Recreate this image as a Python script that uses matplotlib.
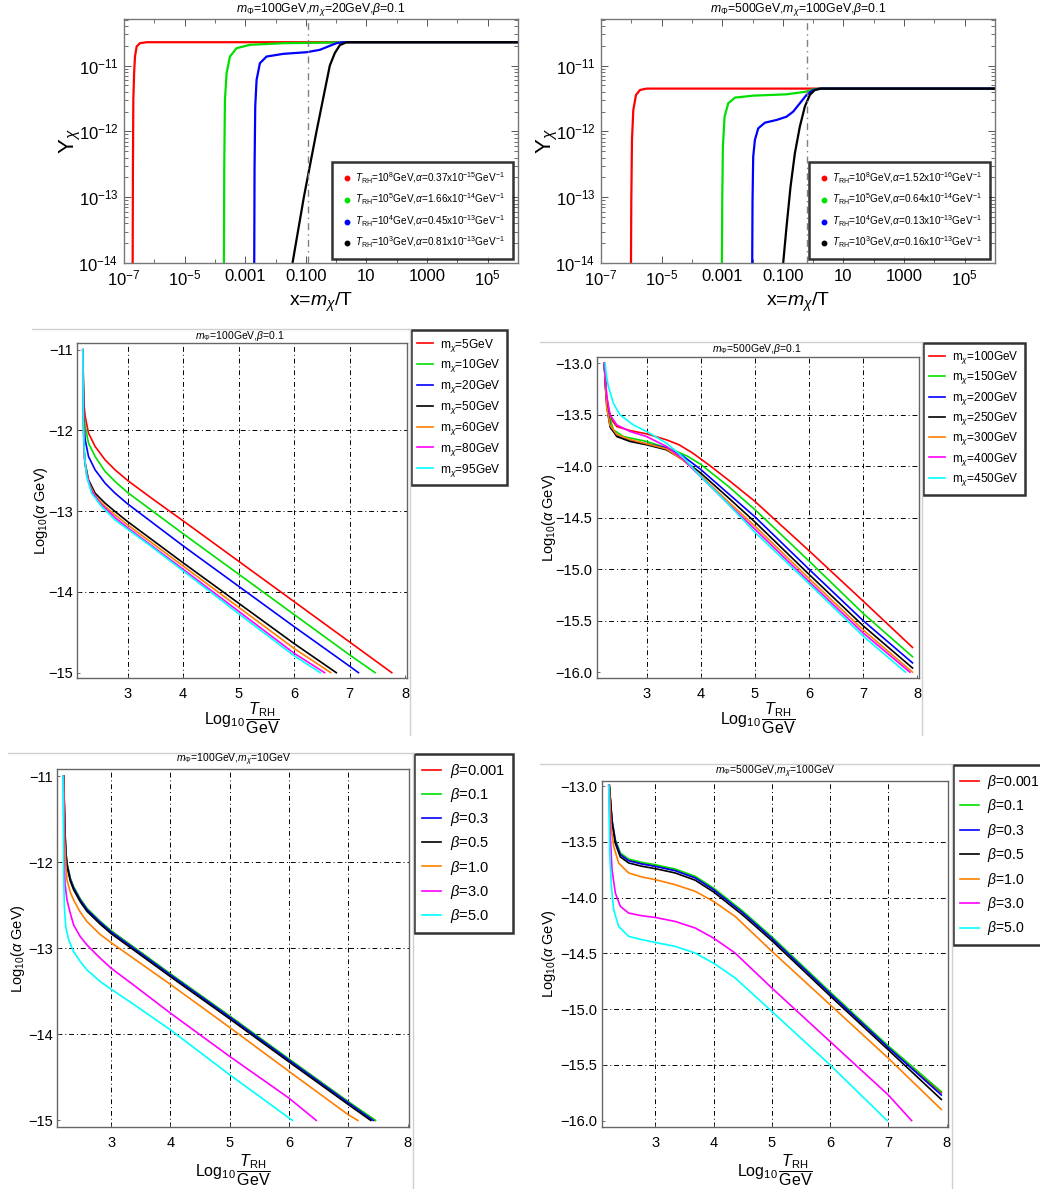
import matplotlib
matplotlib.use("Agg")
import matplotlib.pyplot as plt
from matplotlib.lines import Line2D
from matplotlib.ticker import FixedLocator, FixedFormatter, NullFormatter
import numpy as np

plt.rcParams["font.family"] = ["Liberation Sans", "DejaVu Sans"]
plt.rcParams["mathtext.fontset"] = "custom"
plt.rcParams["mathtext.rm"] = "Liberation Sans"
plt.rcParams["mathtext.it"] = "Liberation Sans:italic"
plt.rcParams["mathtext.bf"] = "Liberation Sans:bold"
plt.rcParams["mathtext.sf"] = "Liberation Sans"

W, H = 1040, 1189

COLORS7 = ["#ff0000", "#00e000", "#0000ff", "#000000", "#ff7f00", "#ff00ff", "#00ffff"]
COLORS4 = ["#ff0000", "#00e000", "#0000ff", "#000000"]

# ---------------- Top-left: Y_chi vs x (m_Phi=100, m_chi=20, beta=0.1) ----------------
TL_TITLE = r"$m_\Phi$=100GeV,$m_\chi$=20GeV,$\beta$=0.1"
TL_LABELS = [
    r"$T_{\rm RH}$=10$^8$GeV,$\alpha$=0.37x10$^{-15}$GeV$^{-1}$",
    r"$T_{\rm RH}$=10$^5$GeV,$\alpha$=1.66x10$^{-14}$GeV$^{-1}$",
    r"$T_{\rm RH}$=10$^4$GeV,$\alpha$=0.45x10$^{-13}$GeV$^{-1}$",
    r"$T_{\rm RH}$=10$^3$GeV,$\alpha$=0.81x10$^{-13}$GeV$^{-1}$",
]
TL_LOGX = [
    [-6.714, -6.705, -6.692, -6.665, -6.637, -6.582, -6.473, -6.25, 6.0],
    [-3.703, -3.692, -3.670, -3.615, -3.505, -3.286, -2.846, -1.747, -0.099, 0.231, 6.0],
    [-2.703, -2.692, -2.670, -2.626, -2.516, -2.297, -1.747, -0.978, -0.538, -0.209, 0.011, 0.231, 6.0],
    [-1.440, -1.253, -1.066, -0.857, -0.648, -0.429, -0.209, -0.044, 0.121, 0.341, 6.0],
]
TL_LOGY = [
    [-14.0, -12.5, -11.52, -11.1, -10.86, -10.71, -10.66, -10.645, -10.645],
    [-14.0, -12.538, -11.523, -11.117, -10.863, -10.736, -10.685, -10.66, -10.65, -10.645, -10.645],
    [-14.0, -12.538, -11.624, -11.218, -10.964, -10.863, -10.822, -10.797, -10.761, -10.70, -10.66, -10.645, -10.645],
    [-14.0, -13.5, -13.0, -12.5, -12.0, -11.5, -11.0, -10.81, -10.69, -10.645, -10.645],
]
TL_VLINE = 0.122

# ---------------- Top-right: Y_chi vs x (m_Phi=500, m_chi=100, beta=0.1) ----------------
TR_TITLE = r"$m_\Phi$=500GeV,$m_\chi$=100GeV,$\beta$=0.1"
TR_LABELS = [
    r"$T_{\rm RH}$=10$^8$GeV,$\alpha$=1.52x10$^{-16}$GeV$^{-1}$",
    r"$T_{\rm RH}$=10$^5$GeV,$\alpha$=0.64x10$^{-14}$GeV$^{-1}$",
    r"$T_{\rm RH}$=10$^4$GeV,$\alpha$=0.13x10$^{-13}$GeV$^{-1}$",
    r"$T_{\rm RH}$=10$^3$GeV,$\alpha$=0.16x10$^{-13}$GeV$^{-1}$",
]
TR_LOGX = [
    [-6.011, -6.0, -5.978, -5.934, -5.846, -5.714, -5.495, 6.0],
    [-3.011, -3.0, -2.978, -2.923, -2.802, -2.582, -1.978, -0.879, -0.220, 0.0, 0.22, 6.0],
    [-2.011, -2.0, -1.978, -1.923, -1.813, -1.593, -1.209, -0.879, -0.659, -0.440, -0.220, 0.0, 0.220, 6.0],
    [-0.989, -0.879, -0.747, -0.604, -0.440, -0.275, -0.110, 0.055, 0.275, 6.0],
]
TR_LOGY = [
    [-14.0, -13.046, -12.132, -11.675, -11.447, -11.371, -11.35, -11.35],
    [-14.0, -13.046, -12.234, -11.777, -11.574, -11.487, -11.457, -11.437, -11.396, -11.36, -11.35, -11.35],
    [-14.0, -13.046, -12.386, -12.132, -11.954, -11.868, -11.827, -11.777, -11.70, -11.574, -11.447, -11.371, -11.35, -11.35],
    [-14.0, -13.452, -12.843, -12.335, -11.929, -11.624, -11.447, -11.371, -11.35, -11.35],
]
TR_VLINE = 0.63

XTICK_VALS = [1e-7, 1e-5, 1e-3, 1e-1, 10, 1e3, 1e5]
XTICK_LABELS = [r"10$^{-7}$", r"10$^{-5}$", "0.001", "0.100", "10", "1000", r"10$^{5}$"]
YTICK_VALS = [1e-14, 1e-13, 1e-12, 1e-11]
YTICK_LABELS = [r"10$^{-14}$", r"10$^{-13}$", r"10$^{-12}$", r"10$^{-11}$"]

# ---------------- Middle-left: log10(alpha) vs log10(T_RH), m_Phi=100 ----------------
ML_TITLE = r"$m_\Phi$=100GeV,$\beta$=0.1"
ML_LABELS = [r"m$_\chi$=5GeV", r"m$_\chi$=10GeV", r"m$_\chi$=20GeV", r"m$_\chi$=50GeV",
             r"m$_\chi$=60GeV", r"m$_\chi$=80GeV", r"m$_\chi$=95GeV"]
ML_X = [
    [2.19, 2.209, 2.233, 2.293, 2.412, 2.592, 2.772, 3.0, 3.432, 4.0, 5.0, 6.0, 7.0, 7.76],
    [2.19, 2.209, 2.233, 2.293, 2.412, 2.592, 2.772, 3.0, 4.0, 5.0, 6.0, 7.0, 7.46],
    [2.19, 2.209, 2.233, 2.293, 2.412, 2.592, 2.772, 3.0, 4.0, 5.0, 6.0, 7.0, 7.16],
    [2.19, 2.209, 2.233, 2.293, 2.412, 2.592, 2.772, 3.0, 4.0, 5.0, 6.0, 6.76],
    [2.19, 2.209, 2.233, 2.293, 2.412, 2.592, 2.772, 3.0, 4.0, 5.0, 6.0, 6.66],
    [2.19, 2.205, 2.22, 2.26, 2.35, 2.5, 2.772, 3.0, 4.0, 5.0, 6.0, 6.55],
    [2.19, 2.199, 2.217, 2.259, 2.349, 2.529, 2.769, 3.0, 3.432, 4.0, 5.0, 6.0, 6.47],
]
ML_Y = [
    [-11.0, -11.661, -11.826, -12.033, -12.198, -12.364, -12.488, -12.62, -12.84, -13.12, -13.62, -14.12, -14.62, -15.0],
    [-11.0, -11.785, -11.95, -12.157, -12.322, -12.508, -12.632, -12.77, -13.28, -13.78, -14.28, -14.78, -15.0],
    [-11.0, -11.909, -12.116, -12.322, -12.488, -12.653, -12.777, -12.91, -13.43, -13.93, -14.43, -14.92, -15.0],
    [-11.0, -12.198, -12.405, -12.612, -12.777, -12.901, -13.004, -13.13, -13.64, -14.14, -14.64, -15.0],
    [-11.0, -12.22, -12.43, -12.64, -12.81, -12.94, -13.045, -13.17, -13.68, -14.19, -14.70, -15.0],
    [-11.0, -12.0, -12.35, -12.55, -12.75, -12.9, -13.08, -13.205, -13.72, -14.24, -14.76, -15.0],
    [-11.0, -11.868, -12.281, -12.570, -12.777, -12.942, -13.107, -13.223, -13.44, -13.74, -14.27, -14.79, -15.0],
]

# ---------------- Middle-right: log10(alpha) vs log10(T_RH), m_Phi=500 ----------------
MR_TITLE = r"$m_\Phi$=500GeV,$\beta$=0.1"
MR_LABELS = [r"m$_\chi$=100GeV", r"m$_\chi$=150GeV", r"m$_\chi$=200GeV", r"m$_\chi$=250GeV",
             r"m$_\chi$=300GeV", r"m$_\chi$=400GeV", r"m$_\chi$=450GeV"]
MR_X = [
    [2.22, 2.26, 2.30, 2.358, 2.45, 2.694, 3.0, 3.367, 3.6, 3.85, 4.162, 4.529, 5.0, 6.0, 7.0, 7.91],
    [2.22, 2.25, 2.297, 2.388, 2.572, 3.0, 3.489, 3.75, 4.0, 4.5, 5.0, 6.0, 7.0, 7.91],
    [2.22, 2.25, 2.28, 2.34, 2.48, 2.694, 3.0, 3.367, 3.673, 4.0, 4.5, 5.0, 6.0, 7.0, 7.91],
    [2.22, 2.266, 2.327, 2.45, 2.694, 3.0, 3.367, 3.673, 4.0, 4.5, 5.0, 6.0, 7.0, 7.91],
    [2.22, 2.266, 2.327, 2.45, 2.694, 3.0, 3.367, 3.673, 4.0, 4.5, 5.0, 6.0, 7.0, 7.91],
    [2.22, 2.266, 2.327, 2.45, 2.694, 3.0, 3.367, 3.673, 4.0, 4.5, 5.0, 6.0, 7.0, 7.86],
    [2.235, 2.26, 2.297, 2.388, 2.511, 2.755, 3.0, 3.367, 3.673, 4.0, 4.407, 5.0, 6.0, 7.0, 7.78],
]
MR_Y = [
    [-13.0, -13.3, -13.45, -13.548, -13.613, -13.652, -13.684, -13.742, -13.79, -13.87, -13.99, -14.14, -14.34, -14.82, -15.31, -15.76],
    [-13.0, -13.3, -13.484, -13.645, -13.71, -13.758, -13.839, -13.90, -13.98, -14.19, -14.42, -14.92, -15.43, -15.85],
    [-13.0, -13.3, -13.45, -13.63, -13.71, -13.75, -13.78, -13.82, -13.90, -14.03, -14.26, -14.49, -15.0, -15.5, -15.91],
    [-13.0, -13.419, -13.613, -13.71, -13.758, -13.79, -13.839, -13.935, -14.065, -14.30, -14.54, -15.05, -15.55, -15.96],
    [-13.0, -13.43, -13.60, -13.69, -13.74, -13.78, -13.83, -13.94, -14.09, -14.34, -14.58, -15.09, -15.59, -16.0],
    [-13.0, -13.32, -13.50, -13.597, -13.661, -13.71, -13.806, -13.93, -14.10, -14.36, -14.61, -15.12, -15.62, -16.0],
    [-13.0, -13.12, -13.226, -13.387, -13.5, -13.597, -13.661, -13.774, -13.91, -14.10, -14.31, -14.64, -15.14, -15.65, -16.0],
]

# ---------------- Bottom-left: beta dependence, m_Phi=100, m_chi=10 ----------------
BL_TITLE = r"$m_\Phi$=100GeV,$m_\chi$=10GeV"
BETA_LABELS = [r"$\beta$=0.001", r"$\beta$=0.1", r"$\beta$=0.3", r"$\beta$=0.5",
               r"$\beta$=1.0", r"$\beta$=3.0", r"$\beta$=5.0"]
BL_X = [
    [2.198, 2.215, 2.232, 2.254, 2.310, 2.366, 2.478, 2.591, 2.815, 3.0, 4.0, 5.0, 6.0, 7.0, 7.45],
    [2.198, 2.215, 2.232, 2.254, 2.310, 2.366, 2.478, 2.591, 2.815, 3.0, 4.0, 5.0, 6.0, 7.0, 7.46],
    [2.198, 2.215, 2.232, 2.254, 2.310, 2.366, 2.478, 2.591, 2.815, 3.0, 4.0, 5.0, 6.0, 7.0, 7.42],
    [2.198, 2.215, 2.232, 2.254, 2.310, 2.366, 2.478, 2.591, 2.815, 3.0, 4.0, 5.0, 6.0, 7.0, 7.38],
    [2.198, 2.215, 2.237, 2.254, 2.310, 2.366, 2.478, 2.591, 2.815, 3.0, 4.0, 5.0, 6.0, 7.0, 7.162],
    [2.192, 2.204, 2.220, 2.254, 2.310, 2.366, 2.478, 2.591, 2.815, 3.0, 3.376, 4.0, 5.0, 6.0, 6.46],
    [2.187, 2.198, 2.209, 2.232, 2.282, 2.366, 2.478, 2.591, 2.815, 3.0, 3.376, 4.0, 5.0, 6.057],
]
BL_Y = [
    [-11.0, -11.552, -11.862, -12.017, -12.19, -12.29, -12.43, -12.54, -12.69, -12.80, -13.30, -13.79, -14.29, -14.785, -15.0],
    [-11.0, -11.549, -11.859, -12.014, -12.187, -12.287, -12.427, -12.537, -12.687, -12.797, -13.297, -13.787, -14.287, -14.782, -15.0],
    [-11.0, -11.56, -11.87, -12.03, -12.20, -12.30, -12.44, -12.55, -12.70, -12.81, -13.31, -13.80, -14.30, -14.795, -15.0],
    [-11.0, -11.58, -11.89, -12.05, -12.22, -12.32, -12.46, -12.57, -12.72, -12.83, -13.33, -13.82, -14.32, -14.815, -15.0],
    [-11.0, -11.743, -12.052, -12.207, -12.35, -12.44, -12.58, -12.69, -12.84, -12.935, -13.42, -13.92, -14.43, -14.934, -15.0],
    [-11.0, -11.936, -12.246, -12.439, -12.594, -12.729, -12.865, -12.961, -13.116, -13.232, -13.426, -13.754, -14.257, -14.741, -15.0],
    [-11.0, -12.13, -12.516, -12.749, -12.903, -13.039, -13.155, -13.251, -13.387, -13.476, -13.65, -13.948, -14.470, -15.0],
]

# ---------------- Bottom-right: beta dependence, m_Phi=500, m_chi=100 ----------------
BR_TITLE = r"$m_\Phi$=500GeV,$m_\chi$=100GeV"
BR_X = [
    [2.21, 2.257, 2.314, 2.4, 2.543, 2.771, 3.0, 3.343, 3.686, 4.0, 4.5, 5.0, 6.0, 7.0, 7.91],
    [2.21, 2.257, 2.314, 2.4, 2.543, 2.771, 3.0, 3.343, 3.686, 4.0, 4.5, 5.0, 6.0, 7.0, 7.91],
    [2.21, 2.257, 2.314, 2.4, 2.543, 2.771, 3.0, 3.343, 3.686, 4.0, 4.5, 5.0, 6.0, 7.0, 7.91],
    [2.21, 2.257, 2.314, 2.4, 2.543, 2.771, 3.0, 3.343, 3.686, 4.0, 4.5, 5.0, 6.0, 7.0, 7.91],
    [2.21, 2.24, 2.286, 2.371, 2.543, 2.771, 3.0, 3.343, 3.686, 4.0, 4.371, 5.0, 6.0, 7.0, 7.91],
    [2.2, 2.229, 2.257, 2.314, 2.4, 2.543, 2.771, 3.0, 3.343, 3.686, 4.0, 4.371, 5.0, 6.0, 7.0, 7.4],
    [2.2, 2.217, 2.246, 2.286, 2.371, 2.543, 2.771, 3.0, 3.343, 3.686, 4.0, 4.371, 5.0, 6.0, 6.98],
]
BR_Y = [
    [-12.99, -13.31, -13.489, -13.609, -13.663, -13.693, -13.714, -13.753, -13.818, -13.923, -14.13, -14.36, -14.855, -15.34, -15.75],
    [-12.99, -13.30, -13.479, -13.599, -13.653, -13.683, -13.704, -13.743, -13.808, -13.913, -14.12, -14.35, -14.845, -15.33, -15.74],
    [-12.99, -13.31, -13.494, -13.614, -13.668, -13.698, -13.719, -13.758, -13.823, -13.928, -14.135, -14.365, -14.86, -15.345, -15.77],
    [-12.99, -13.33, -13.514, -13.634, -13.688, -13.718, -13.739, -13.778, -13.843, -13.948, -14.155, -14.385, -14.88, -15.365, -15.81],
    [-12.99, -13.359, -13.539, -13.689, -13.778, -13.814, -13.838, -13.883, -13.943, -14.033, -14.168, -14.48, -14.96, -15.44, -15.9],
    [-12.99, -13.449, -13.749, -13.958, -14.078, -14.138, -14.162, -14.177, -14.213, -14.272, -14.362, -14.497, -14.81, -15.29, -15.77, -16.0],
    [-12.99, -13.599, -13.898, -14.108, -14.257, -14.347, -14.377, -14.401, -14.437, -14.497, -14.587, -14.72, -15.02, -15.5, -16.0],
]

DASHDOT = (0, (5, 3, 1, 3))
SPINE = "#666666"
MINUS = "\u2212"
INT_TICKS = [-15, -14, -13, -12, -11]
INT_LABELS = [MINUS + "15", MINUS + "14", MINUS + "13", MINUS + "12", MINUS + "11"]
HALF_TICKS = [-16.0, -15.5, -15.0, -14.5, -14.0, -13.5, -13.0]
HALF_LABELS = [MINUS + "16.0", MINUS + "15.5", MINUS + "15.0", MINUS + "14.5",
               MINUS + "14.0", MINUS + "13.5", MINUS + "13.0"]

fig = plt.figure(figsize=(W / 100, H / 100), dpi=100)
fig.patch.set_facecolor("white")


def px_axes(l, t, r, b):
    return fig.add_axes([l / W, 1 - b / H, (r - l) / W, (b - t) / H])


def fig_line(x0, y0, x1, y1, color="#cfcfcf", lw=1.0):
    fig.add_artist(Line2D([x0 / W, x1 / W], [1 - y0 / H, 1 - y1 / H],
                          transform=fig.transFigure, color=color, lw=lw))


def style_spines(ax, color=SPINE, lw=1.0):
    for s in ax.spines.values():
        s.set_color(color)
        s.set_linewidth(lw)


def yield_panel(ax, logx, logy, labels, vline, title, title_xy, legend_box):
    for lx, ly, c in zip(logx, logy, COLORS4):
        ax.plot(10 ** np.array(lx), 10 ** np.array(ly), color=c, lw=1.6, solid_capstyle="butt")
    ax.set_xscale("log")
    ax.set_yscale("log")
    ax.set_xlim(1e-7, 1e6)
    ax.set_ylim(1e-14, 5.1e-11)
    ax.axvline(vline, color="#808080", lw=1.0, ls=DASHDOT)
    ax.xaxis.set_major_locator(FixedLocator(XTICK_VALS))
    ax.xaxis.set_major_formatter(FixedFormatter(XTICK_LABELS))
    ax.xaxis.set_minor_locator(FixedLocator([1e-6, 1e-4, 1e-2, 1, 1e2, 1e4]))
    ax.xaxis.set_minor_formatter(NullFormatter())
    ax.yaxis.set_major_locator(FixedLocator(YTICK_VALS))
    ax.yaxis.set_major_formatter(FixedFormatter(YTICK_LABELS))
    yminor = [m * 10.0 ** e for e in range(-14, -10) for m in range(2, 10) if m * 10.0 ** e < 5.1e-11]
    ax.yaxis.set_minor_locator(FixedLocator(yminor))
    ax.yaxis.set_minor_formatter(NullFormatter())
    ax.tick_params(which="major", direction="in", top=True, right=True, length=5,
                   width=0.7, color="#555555", labelsize=12, pad=4)
    ax.tick_params(which="minor", direction="in", top=True, right=True, length=3,
                   width=0.6, color="#555555")
    style_spines(ax, "#777777", 1.0)
    ax.set_ylabel(r"Y$_\chi$", fontsize=16)
    ax.yaxis.set_label_coords(-0.105, 0.5)
    ax.set_xlabel(r"x=$m_\chi$/T", fontsize=14, labelpad=2)
    fig.text(title_xy[0] / W, 1 - title_xy[1] / H, title, ha="center", va="center", fontsize=8.8)
    handles = [Line2D([], [], color=c, marker="o", ms=3.2, ls="none") for c in COLORS4]
    leg = ax.legend(handles, labels, loc="lower right",
                    bbox_to_anchor=(legend_box[0] / W, 1 - legend_box[1] / H),
                    bbox_transform=fig.transFigure, borderaxespad=0, fontsize=7.2,
                    frameon=True, fancybox=False, handletextpad=0.2, handlelength=1.2,
                    labelspacing=0.62, borderpad=0.85)
    leg.get_frame().set_edgecolor("black")
    leg.get_frame().set_linewidth(1.8)


def alpha_panel(ax, xs, ys, labels, ylim, yticks, ticklabels, ygrid, title, title_xy,
                legend_anchor, legend_font, legend_spacing, ylabel_x, xlabel_y):
    for x, y, c in zip(xs, ys, COLORS7):
        ax.plot(x, y, color=c, lw=1.2)
    ax.set_xlim(2.08, 8.03)
    ax.set_ylim(*ylim)
    for gx in [3, 4, 5, 6, 7]:
        ax.axvline(gx, color="black", lw=0.7, ls=DASHDOT, zorder=0)
    for gy in ygrid:
        ax.axhline(gy, color="black", lw=0.7, ls=DASHDOT, zorder=0)
    ax.set_xticks([3, 4, 5, 6, 7, 8])
    ax.set_yticks(yticks)
    ax.set_yticklabels(ticklabels)
    ax.tick_params(direction="in", length=2.5, width=0.6, color="#555555",
                   labelsize=10.5, pad=3)
    ax.tick_params(axis="x", pad=6)
    style_spines(ax, SPINE, 1.0)
    ax.text(ylabel_x, 0.5, r"Log$_{10}$($\alpha$ GeV)", transform=ax.transAxes,
            rotation=90, ha="center", va="center", fontsize=10.5)
    ax.text(0.5, xlabel_y, r"Log$_{10}\,\dfrac{T_{\rm RH}}{\rm GeV}$", transform=ax.transAxes,
            ha="center", va="center", fontsize=11.5)
    fig.text(title_xy[0] / W, 1 - title_xy[1] / H, title, ha="center", va="center", fontsize=7.5)
    handles = [Line2D([], [], color=c, lw=1.2) for c in COLORS7]
    leg = ax.legend(handles, labels, loc="upper left",
                    bbox_to_anchor=(legend_anchor[0] / W, 1 - legend_anchor[1] / H),
                    bbox_transform=fig.transFigure, borderaxespad=0, fontsize=legend_font,
                    frameon=True, fancybox=False, handlelength=1.3, handletextpad=0.6,
                    labelspacing=legend_spacing, borderpad=0.55)
    leg.get_frame().set_edgecolor("black")
    leg.get_frame().set_linewidth(1.8)
    leg.set_clip_on(False)


# image borders of the lower four panels
fig_line(32, 329, 410, 329)
fig_line(410, 329, 410, 735)
fig_line(540, 342, 922, 342)
fig_line(921.7, 342, 921.7, 735)
fig_line(8, 753, 414, 753)
fig_line(412.7, 753, 412.7, 1189)
fig_line(540, 764, 952, 764)
fig_line(951.7, 764, 951.7, 1189)

ax1 = px_axes(124, 19, 518, 263)
yield_panel(ax1, TL_LOGX, TL_LOGY, TL_LABELS, TL_VLINE, TL_TITLE, (321, 9.5), (513, 259))

ax2 = px_axes(601, 19, 995, 263)
yield_panel(ax2, TR_LOGX, TR_LOGY, TR_LABELS, TR_VLINE, TR_TITLE, (798, 9.5), (990, 259))

ax3 = px_axes(76.7, 343.3, 406.7, 678.3)
alpha_panel(ax3, ML_X, ML_Y, ML_LABELS, (-15.07, -10.92), INT_TICKS, INT_LABELS,
            [-12, -13, -14], ML_TITLE, (240, 336), (410.7, 330), 8.6, 0.32, -0.108, -0.12)

ax4 = px_axes(596.7, 357.3, 919, 678.3)
alpha_panel(ax4, MR_X, MR_Y, MR_LABELS, (-16.06, -12.94), HALF_TICKS, HALF_LABELS,
            [-13.5, -14.0, -14.5, -15.0, -15.5],
            MR_TITLE, (757, 349), (922.7, 342.7), 8.5, 0.28, -0.148, -0.125)

ax5 = px_axes(56.7, 769.3, 409.3, 1127.3)
alpha_panel(ax5, BL_X, BL_Y, BETA_LABELS, (-15.08, -10.92), INT_TICKS, INT_LABELS,
            [-12, -13, -14], BL_TITLE, (233, 760), (414, 754), 10.5, 0.42, -0.11, -0.12)

ax6 = px_axes(601.7, 780.7, 948.3, 1127.3)
alpha_panel(ax6, BR_X, BR_Y, BETA_LABELS, (-16.06, -12.95), HALF_TICKS, HALF_LABELS,
            [-13.5, -14.0, -14.5, -15.0, -15.5],
            BR_TITLE, (775, 771.7), (952.7, 765), 10.1, 0.46, -0.151, -0.125)

fig.savefig("out.png", dpi=100, facecolor="white")
